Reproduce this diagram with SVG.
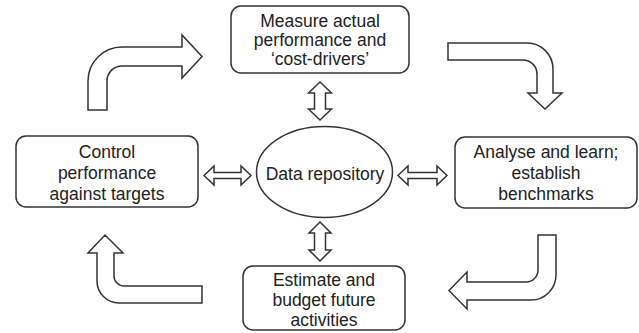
<svg xmlns="http://www.w3.org/2000/svg" width="639" height="333" viewBox="0 0 639 333">
<style>
.box{fill:#fff;stroke:#333;stroke-width:1.5}
.arr{fill:#fff;stroke:#333;stroke-width:1.5;stroke-linejoin:miter}
.t{font-family:"Liberation Sans",Arial,sans-serif;font-size:17.5px;fill:#222;text-anchor:middle}
</style>
<rect width="639" height="333" fill="#fff"/>
<g id="connectors">
<path class="arr" d="M88,110 L88,81 A34,34 0 0 1 122,47 L182,47 L182,35 L202,56.5 L182,78 L182,66 L122,66 A15,15 0 0 0 107,81 L107,110 Z"/>
<path class="arr" d="M448,43 L527,43 A26,26 0 0 1 553,69 L553,93 L562,93 L545,109 L528,93 L537,93 L537,74 A14,14 0 0 0 523,60 L448,60 Z"/>
<path class="arr" d="M538,235 L556,235 L556,275 A25,25 0 0 1 531,300 L467,300 L467,309 L449,290.5 L467,272 L467,282 L526,282 A12,12 0 0 0 538,270 Z"/>
<path class="arr" d="M202,286 L124,286 A10,10 0 0 1 114,276 L114,253 L123,253 L105,235 L88,253 L97,253 L97,281 A22,22 0 0 0 119,303 L202,303 Z"/>
<path class="arr" d="M320,82 L331.5,93 L325.5,93 L325.5,109 L331.5,109 L320,120 L308.5,109 L314.5,109 L314.5,93 L308.5,93 Z"/>
<path class="arr" d="M320,222 L331,233 L325.5,233 L325.5,250 L331,250 L320,261 L309,250 L314.5,250 L314.5,233 L309,233 Z"/>
<path class="arr" d="M204,175.5 L214,166 L214,172.5 L241,172.5 L241,166 L251,175.5 L241,185 L241,178.5 L214,178.5 L214,185 Z"/>
<path class="arr" d="M398,175.5 L408,166 L408,172.5 L437,172.5 L437,166 L447,175.5 L437,185 L437,178.5 L408,178.5 L408,185 Z"/>
</g>
<g id="measure">
<rect class="box" x="231" y="6" width="178" height="67" rx="10"/>
<text class="t" x="320" y="27">Measure actual</text>
<text class="t" x="320" y="46">performance and</text>
<text class="t" x="320" y="65">‘cost-drivers’</text>
</g>
<g id="control">
<rect class="box" x="16" y="136" width="182" height="71" rx="10"/>
<text class="t" x="107" y="158">Control</text>
<text class="t" x="107" y="179">performance</text>
<text class="t" x="107" y="200">against targets</text>
</g>
<g id="repository">
<ellipse class="box" cx="324.5" cy="172" rx="68" ry="45.5"/>
<text class="t" x="325" y="180">Data repository</text>
</g>
<g id="analyse">
<rect class="box" x="455" y="137" width="182" height="71" rx="10"/>
<text class="t" x="546" y="158">Analyse and learn;</text>
<text class="t" x="546" y="179">establish</text>
<text class="t" x="546" y="200">benchmarks</text>
</g>
<g id="estimate">
<rect class="box" x="243" y="266" width="162" height="64" rx="10"/>
<text class="t" x="324" y="286">Estimate and</text>
<text class="t" x="324" y="306">budget future</text>
<text class="t" x="324" y="326">activities</text>
</g>
</svg>
